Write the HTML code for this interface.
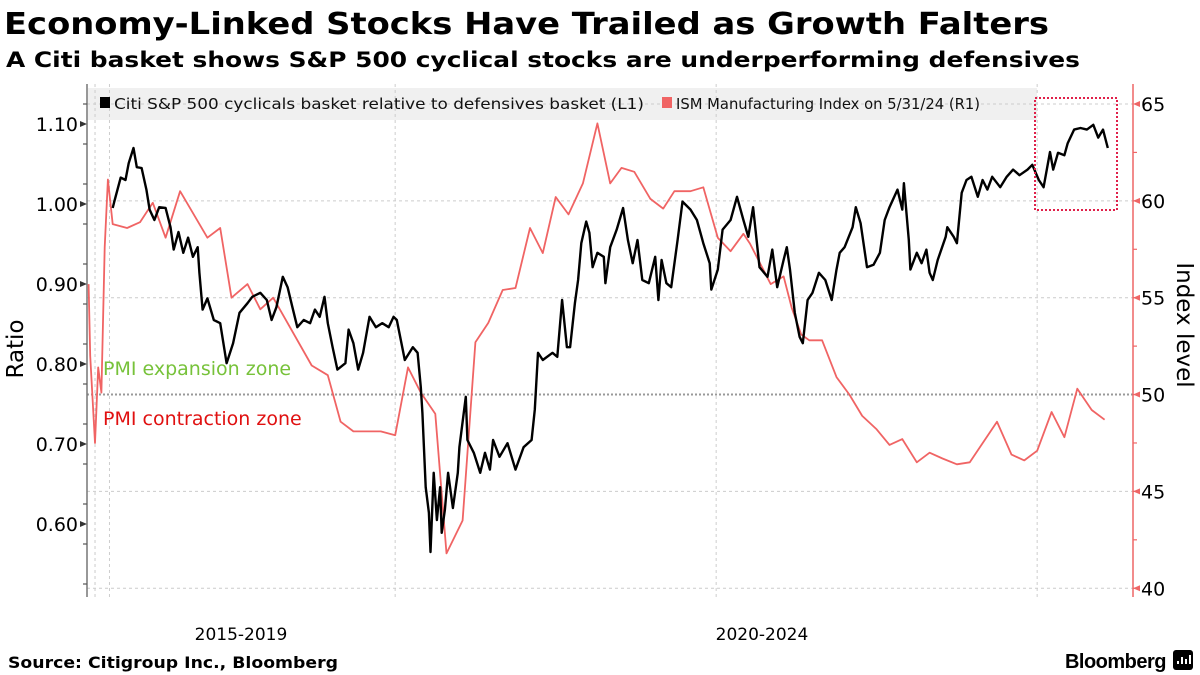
<!DOCTYPE html>
<html><head><meta charset="utf-8">
<style>
html,body{margin:0;padding:0;background:#fff;}
body{width:1200px;height:675px;overflow:hidden;position:relative;font-family:"DejaVu Sans","Liberation Sans",sans-serif;}
svg{position:absolute;left:0;top:0;}
</style></head>
<body>
<svg id="chart" width="1200" height="675">
<text x="4" y="34" font-size="30" font-weight="bold" font-family="DejaVu Sans, sans-serif" textLength="1045" lengthAdjust="spacingAndGlyphs">Economy-Linked Stocks Have Trailed as Growth Falters</text>
<text x="6" y="67" font-size="21" font-weight="bold" font-family="DejaVu Sans, sans-serif" textLength="1074" lengthAdjust="spacingAndGlyphs">A Citi basket shows S&amp;P 500 cyclical stocks are underperforming defensives</text>
</svg>
<script>
// ISM Manufacturing Index (monthly) - decimal year / value
const ismDates=[2018.09,2018.10,2018.13,2018.15,2018.17,2018.19,2018.21,2018.24,2018.33,2018.41,2018.49,2018.57,2018.66,2018.83,2018.91,2018.98,2019.08,2019.16,2019.24,2019.48,2019.58,2019.66,2019.74,2019.91,2020.00,2020.08,2020.16,2020.25,2020.32,2020.42,2020.50,2020.58,2020.67,2020.75,2020.84,2020.92,2021.00,2021.08,2021.17,2021.26,2021.34,2021.41,2021.49,2021.59,2021.67,2021.74,2021.84,2021.92,2022.01,2022.09,2022.17,2022.21,2022.34,2022.42,2022.47,2022.53,2022.58,2022.66,2022.75,2022.83,2022.91,2023.00,2023.08,2023.16,2023.25,2023.33,2023.41,2023.50,2023.58,2023.75,2023.84,2023.92,2024.00,2024.09,2024.17,2024.25,2024.34,2024.42];
const ismValues=[55.7,52.0,47.5,51.4,50.1,57.6,61.1,58.8,58.6,58.9,59.9,58.1,60.5,58.1,58.6,55.0,55.7,54.4,55.0,51.5,51.0,48.6,48.1,48.1,47.9,51.4,50.1,49.0,41.8,43.5,52.7,53.7,55.4,55.5,58.6,57.3,60.2,59.3,60.9,64.0,60.9,61.7,61.5,60.1,59.6,60.5,60.5,60.7,58.1,57.4,58.3,57.8,55.7,56.1,54.5,53.1,52.8,52.8,50.9,50.0,48.9,48.2,47.4,47.7,46.5,47.0,46.7,46.4,46.5,48.6,46.9,46.6,47.1,49.1,47.8,50.3,49.2,48.7];
// Citi cyclicals / defensives ratio
const ratioDates=[2018.24,2018.25,2018.29,2018.32,2018.34,2018.37,2018.39,2018.42,2018.45,2018.47,2018.50,2018.53,2018.57,2018.60,2018.62,2018.65,2018.68,2018.71,2018.74,2018.77,2018.78,2018.80,2018.83,2018.87,2018.91,2018.95,2018.99,2019.03,2019.08,2019.11,2019.16,2019.20,2019.23,2019.26,2019.30,2019.33,2019.36,2019.39,2019.43,2019.47,2019.50,2019.53,2019.56,2019.58,2019.61,2019.64,2019.69,2019.71,2019.74,2019.77,2019.80,2019.84,2019.88,2019.92,2019.96,2019.99,2020.01,2020.06,2020.11,2020.14,2020.16,2020.17,2020.19,2020.21,2020.22,2020.24,2020.26,2020.28,2020.29,2020.31,2020.33,2020.36,2020.39,2020.40,2020.44,2020.45,2020.49,2020.53,2020.56,2020.59,2020.61,2020.65,2020.70,2020.75,2020.80,2020.85,2020.87,2020.89,2020.92,2020.98,2021.01,2021.04,2021.07,2021.09,2021.12,2021.14,2021.16,2021.19,2021.21,2021.23,2021.26,2021.30,2021.31,2021.34,2021.38,2021.42,2021.45,2021.48,2021.51,2021.54,2021.58,2021.62,2021.64,2021.66,2021.69,2021.72,2021.76,2021.79,2021.84,2021.88,2021.92,2021.96,2021.97,2022.01,2022.04,2022.09,2022.13,2022.17,2022.20,2022.23,2022.27,2022.32,2022.35,2022.38,2022.42,2022.44,2022.46,2022.49,2022.52,2022.54,2022.57,2022.60,2022.64,2022.68,2022.72,2022.75,2022.77,2022.80,2022.85,2022.87,2022.90,2022.94,2022.98,2023.02,2023.05,2023.08,2023.13,2023.16,2023.17,2023.20,2023.21,2023.25,2023.28,2023.31,2023.33,2023.35,2023.38,2023.43,2023.44,2023.48,2023.50,2023.53,2023.56,2023.59,2023.63,2023.66,2023.69,2023.72,2023.77,2023.81,2023.85,2023.89,2023.94,2023.97,2024.01,2024.04,2024.08,2024.10,2024.13,2024.17,2024.19,2024.23,2024.27,2024.31,2024.35,2024.38,2024.41,2024.44];
const ratioValues=[0.995,1.003,1.033,1.030,1.051,1.070,1.046,1.045,1.018,0.993,0.980,0.996,0.995,0.971,0.943,0.965,0.939,0.958,0.934,0.946,0.914,0.868,0.882,0.855,0.851,0.801,0.826,0.864,0.876,0.884,0.889,0.880,0.855,0.871,0.909,0.896,0.871,0.846,0.855,0.851,0.868,0.859,0.884,0.851,0.821,0.793,0.801,0.843,0.826,0.793,0.814,0.859,0.846,0.851,0.846,0.859,0.855,0.805,0.821,0.814,0.771,0.739,0.646,0.614,0.565,0.664,0.605,0.646,0.589,0.618,0.664,0.620,0.664,0.696,0.759,0.705,0.689,0.664,0.689,0.668,0.705,0.684,0.701,0.668,0.696,0.705,0.743,0.814,0.805,0.814,0.809,0.880,0.821,0.821,0.876,0.905,0.951,0.978,0.964,0.921,0.939,0.934,0.901,0.946,0.968,0.995,0.955,0.926,0.955,0.905,0.901,0.934,0.880,0.930,0.901,0.896,0.955,1.003,0.993,0.980,0.951,0.926,0.893,0.918,0.968,0.980,1.009,0.980,0.959,0.996,0.921,0.909,0.943,0.896,0.930,0.946,0.918,0.864,0.834,0.826,0.880,0.889,0.914,0.905,0.880,0.918,0.939,0.946,0.971,0.996,0.976,0.921,0.924,0.939,0.980,0.996,1.018,0.993,1.026,0.955,0.918,0.939,0.926,0.943,0.914,0.905,0.930,0.959,0.971,0.959,0.951,1.014,1.030,1.034,1.009,1.030,1.018,1.034,1.021,1.034,1.043,1.036,1.043,1.049,1.030,1.021,1.065,1.043,1.064,1.061,1.076,1.093,1.095,1.093,1.099,1.083,1.093,1.070];
const leftTicks=[1.10,1.00,0.90,0.80,0.70,0.60];
const leftTickLabels=["1.10","1.00","0.90","0.80","0.70","0.60"];
const rightTicks=[65,60,55,50,45,40];
const xGridDates=[2018.13,2018.22,2020.0,2022.0,2024.0];
const xLabels=["2015-2019","2020-2024"];

const NS="http://www.w3.org/2000/svg";
const svg=document.getElementById('chart');
const X0=87,X1=1133,T0=2018.08,PXY=160.5;
const xs=t=>X0+(t-T0)*PXY;
const yl=v=>124+(1.10-v)*800;
const yr=v=>104+(65-v)*19.37;
function el(tag,attrs,parent){const e=document.createElementNS(NS,tag);for(const k in attrs)e.setAttribute(k,attrs[k]);(parent||svg).appendChild(e);return e;}

const lg=el('rect',{x:88,y:88,width:949,height:32,fill:'#f0f0f0'});



rightTicks.forEach(v=>{
  const g=el('line',{x1:X0,x2:X1,y1:yr(v),y2:yr(v),stroke:v===50?'#999':'#ccc','stroke-width':v===50?2:1,'stroke-dasharray':v===50?'2,2':'3,3'});
  
  
});
xGridDates.forEach(t=>{
  const g=el('line',{x1:xs(t),x2:xs(t),y1:84,y2:597,stroke:'#ccc','stroke-width':1,'stroke-dasharray':'3,3'});
  
  
});

const la=el('line',{x1:X0,x2:X0,y1:84,y2:597,stroke:'#777','stroke-width':1.5});


for(let v=1.125;v>0.5;v-=0.05){
  const tk=el('line',{x1:X0-4,x2:X0,y1:yl(v),y2:yl(v),stroke:'#555','stroke-width':1.2});
  
  
}
leftTicks.forEach((v,i)=>{
  el('path',{d:`M${X0-7},${yl(v)-3}L${X0},${yl(v)}L${X0-7},${yl(v)+3}Z`,fill:'#333'});
  const tx=el('text',{x:X0-9,y:yl(v)+7,'text-anchor':'end','font-size':19,fill:'#000'});
  tx.textContent=leftTickLabels[i];
  
  
});
const ra=el('line',{x1:X1,x2:X1,y1:84,y2:597,stroke:'#ee6666','stroke-width':1.5});


for(let v=62.5;v>38;v-=2.5){
  const tk=el('line',{x1:X1,x2:X1+4,y1:yr(v),y2:yr(v),stroke:'#ee6666','stroke-width':1.2});
  
  
}
rightTicks.forEach(v=>{
  el('path',{d:`M${X1+7},${yr(v)-3}L${X1},${yr(v)}L${X1+7},${yr(v)+3}Z`,fill:'#ee6666'});
  const tx=el('text',{x:X1+8,y:yr(v)+7,'font-size':19,fill:'#000'});
  tx.textContent=String(v);
  
  
});

const at1=el('text',{x:0,y:0,'font-size':23,fill:'#000','text-anchor':'middle',transform:'translate(23,349) rotate(-90)'});
at1.textContent='Ratio';


const at2=el('text',{x:0,y:0,'font-size':23,fill:'#000','text-anchor':'middle',transform:'translate(1177,325) rotate(90)'});
at2.textContent='Index level';



const z1=el('text',{x:103,y:375,'font-size':19,fill:'#77c23a'});
z1.textContent='PMI expansion zone';


const z2=el('text',{x:103,y:425,'font-size':19,fill:'#e01010'});
z2.textContent='PMI contraction zone';



const ism=el('polyline',{points:ismDates.map((t,i)=>xs(t).toFixed(1)+','+yr(ismValues[i]).toFixed(1)).join(' '),fill:'none',stroke:'#f06464','stroke-width':1.8,'stroke-linejoin':'round'});


const rat=el('polyline',{points:ratioDates.map((t,i)=>xs(t).toFixed(1)+','+yl(ratioValues[i]).toFixed(1)).join(' '),fill:'none',stroke:'#000','stroke-width':2.4,'stroke-linejoin':'round'});



const hb=el('rect',{x:1035,y:98,width:82,height:112,fill:'none',stroke:'#e0204a','stroke-width':2,'stroke-dasharray':'2,2'});



el('rect',{x:100,y:97,width:10,height:11,fill:'#000'});
const l1=el('text',{x:114,y:109,'font-size':15.5,fill:'#111',textLength:530,lengthAdjust:'spacingAndGlyphs'});
l1.textContent='Citi S&P 500 cyclicals basket relative to defensives basket (L1)';


el('rect',{x:662,y:97,width:10,height:11,fill:'#f06464'});
const l2=el('text',{x:676,y:109,'font-size':15.5,fill:'#111',textLength:304,lengthAdjust:'spacingAndGlyphs'});
l2.textContent='ISM Manufacturing Index on 5/31/24 (R1)';



[241,762].forEach((cx,i)=>{
  const tx=el('text',{x:cx,y:640,'text-anchor':'middle','font-size':17,fill:'#000'});
  tx.textContent=xLabels[i];
  
  
});

const src=el('text',{x:8,y:668,'font-size':16,'font-weight':'bold',fill:'#000',textLength:330,lengthAdjust:'spacingAndGlyphs'});
src.textContent='Source: Citigroup Inc., Bloomberg';


const bb=el('text',{x:1166,y:668,'text-anchor':'end','font-size':20,'font-weight':'bold',fill:'#000','font-family':'Liberation Sans, sans-serif','letter-spacing':'-0.5'});
bb.textContent='Bloomberg';


el('rect',{x:1173,y:650,width:20,height:20,rx:3,fill:'#000'});
[[1177,661,3],[1181,657,7],[1185,659,5],[1189,655,9]].forEach(b=>el('rect',{x:b[0],y:b[1],width:2,height:b[2],fill:'#fff'}));
</script>
</body></html>
